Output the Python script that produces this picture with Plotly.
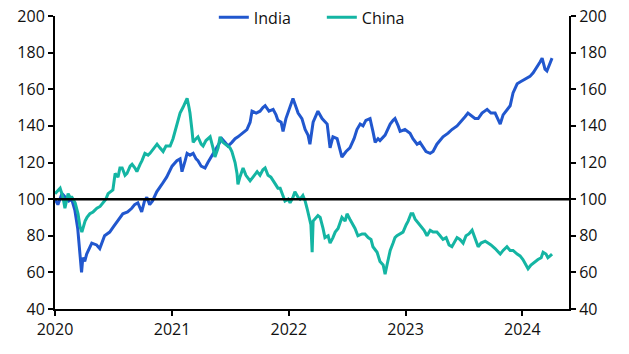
import plotly.graph_objects as go

india_dates = ["2020-01-01","2020-01-10","2020-01-23","2020-02-01","2020-02-13","2020-02-22","2020-03-03","2020-03-12","2020-03-18","2020-03-24","2020-03-28","2020-04-03","2020-04-09","2020-04-18","2020-04-25","2020-05-10","2020-05-20","2020-06-04","2020-06-20","2020-07-02","2020-07-15","2020-07-31","2020-08-15","2020-08-28","2020-09-06","2020-09-16","2020-09-28","2020-10-07","2020-10-14","2020-10-23","2020-11-01","2020-11-14","2020-11-30","2020-12-15","2021-01-01","2021-01-16","2021-01-26","2021-02-01","2021-02-11","2021-02-17","2021-02-26","2021-03-08","2021-03-17","2021-03-23","2021-04-02","2021-04-14","2021-04-23","2021-05-06","2021-05-18","2021-05-28","2021-06-06","2021-06-16","2021-06-25","2021-07-07","2021-07-17","2021-07-26","2021-08-08","2021-08-23","2021-09-02","2021-09-08","2021-09-21","2021-10-03","2021-10-12","2021-10-19","2021-10-31","2021-11-13","2021-11-22","2021-11-28","2021-12-08","2021-12-14","2021-12-23","2022-01-05","2022-01-14","2022-01-24","2022-01-30","2022-02-11","2022-02-21","2022-03-02","2022-03-08","2022-03-18","2022-03-27","2022-04-02","2022-04-15","2022-05-01","2022-05-10","2022-05-19","2022-06-01","2022-06-10","2022-06-16","2022-06-29","2022-07-11","2022-07-24","2022-08-02","2022-08-12","2022-08-21","2022-08-30","2022-09-12","2022-09-21","2022-09-28","2022-10-07","2022-10-13","2022-10-29","2022-11-14","2022-11-23","2022-11-29","2022-12-09","2022-12-15","2022-12-30","2023-01-15","2023-01-24","2023-02-06","2023-02-15","2023-02-25","2023-03-06","2023-03-19","2023-03-28","2023-04-09","2023-04-28","2023-05-14","2023-05-26","2023-06-11","2023-06-27","2023-07-06","2023-07-15","2023-07-28","2023-08-06","2023-08-16","2023-08-28","2023-09-13","2023-09-25","2023-10-08","2023-10-17","2023-10-24","2023-11-02","2023-11-14","2023-11-24","2023-12-03","2023-12-16","2023-12-25","2024-01-03","2024-01-16","2024-01-25","2024-02-04","2024-02-16","2024-02-26","2024-03-03","2024-03-12","2024-03-18","2024-03-28","2024-04-03"]
india_values = [100,97,103,101,99,100,94,84,72,60,68,66,70,73,76,75,73,80,82,85,88,92,93,95,97,98,93,99,101,97,99,104,108,112,118,121,122,115,121,125,124,125,122,121,118,117,120,124,127,130,133,131,129,131,133,134,136,138,142,148,147,148,150,151,148,149,146,143,142,137,144,150,155,150,147,144,138,135,130,142,146,148,144,141,128,134,133,127,123,126,128,133,138,141,140,143,144,137,131,133,132,135,141,143,144,140,137,138,136,133,130,131,128,126,125,126,130,134,136,138,140,143,145,147,145,144,144,147,149,147,147,143,141,146,149,151,158,163,164,165,166,167,169,172,175,177,171,170,174,177]

china_dates = ["2020-01-01","2020-01-07","2020-01-17","2020-01-26","2020-02-01","2020-02-11","2020-02-17","2020-02-23","2020-03-04","2020-03-13","2020-03-19","2020-03-25","2020-04-04","2020-04-10","2020-04-19","2020-04-29","2020-05-11","2020-05-21","2020-05-30","2020-06-08","2020-06-15","2020-06-24","2020-06-30","2020-07-07","2020-07-16","2020-07-22","2020-07-29","2020-08-07","2020-08-13","2020-08-23","2020-08-29","2020-09-07","2020-09-13","2020-09-23","2020-09-29","2020-10-08","2020-10-18","2020-10-24","2020-11-02","2020-11-15","2020-11-24","2020-12-04","2020-12-13","2020-12-26","2021-01-04","2021-01-10","2021-01-20","2021-01-26","2021-02-04","2021-02-11","2021-02-17","2021-02-23","2021-02-26","2021-03-04","2021-03-08","2021-03-17","2021-03-23","2021-04-02","2021-04-08","2021-04-17","2021-04-30","2021-05-09","2021-05-15","2021-05-25","2021-05-31","2021-06-09","2021-06-22","2021-07-01","2021-07-07","2021-07-17","2021-07-23","2021-07-26","2021-08-01","2021-08-11","2021-08-20","2021-09-02","2021-09-11","2021-09-24","2021-10-03","2021-10-12","2021-10-19","2021-10-28","2021-11-06","2021-11-13","2021-11-22","2021-11-28","2021-12-05","2021-12-14","2021-12-20","2021-12-30","2022-01-05","2022-01-14","2022-01-20","2022-01-30","2022-02-05","2022-02-14","2022-02-21","2022-02-27","2022-03-08","2022-03-11","2022-03-15","2022-03-18","2022-04-02","2022-04-09","2022-04-18","2022-04-24","2022-05-04","2022-05-10","2022-05-19","2022-05-26","2022-06-04","2022-06-16","2022-06-26","2022-07-02","2022-07-11","2022-07-18","2022-07-27","2022-08-05","2022-08-18","2022-08-27","2022-09-06","2022-09-15","2022-09-21","2022-10-04","2022-10-13","2022-10-23","2022-10-29","2022-11-04","2022-11-14","2022-11-23","2022-11-29","2022-12-05","2022-12-15","2022-12-24","2023-01-03","2023-01-09","2023-01-18","2023-01-24","2023-01-31","2023-02-09","2023-02-18","2023-02-28","2023-03-09","2023-03-19","2023-03-28","2023-04-09","2023-04-19","2023-04-28","2023-05-08","2023-05-17","2023-05-26","2023-06-05","2023-06-11","2023-06-20","2023-06-30","2023-07-09","2023-07-18","2023-07-28","2023-08-06","2023-08-16","2023-08-25","2023-09-07","2023-09-16","2023-09-25","2023-10-08","2023-10-17","2023-10-24","2023-11-02","2023-11-14","2023-11-24","2023-12-03","2023-12-16","2023-12-25","2024-01-03","2024-01-10","2024-01-19","2024-01-28","2024-02-10","2024-02-19","2024-02-29","2024-03-06","2024-03-15","2024-03-21","2024-03-28","2024-04-03"]
china_values = [103,104,106,101,95,103,101,101,98,92,85,82,88,90,92,93,95,96,98,100,103,104,105,114,112,117,117,113,114,118,119,117,115,119,121,125,124,125,127,130,128,126,129,129,133,137,143,147,150,153,155,150,147,138,131,133,134,130,129,132,134,128,123,128,134,131,129,128,126,120,114,108,112,117,113,110,112,115,113,116,117,113,112,110,108,106,106,101,99,100,98,101,104,101,100,102,99,95,87,86,71,88,91,90,84,79,80,76,79,82,84,90,88,92,89,87,84,80,81,81,79,78,74,71,66,64,59,64,72,76,79,80,81,82,86,88,92,92,89,87,85,83,80,83,82,82,80,78,79,75,74,77,79,78,76,80,81,83,79,74,76,77,76,75,73,71,70,72,74,72,72,70,69,67,65,62,64,66,67,68,71,70,68,69,70]

series_names = ["India", "China"]
series_colors = ["#2157CE", "#14B5A3"]
x_tick_vals = ["2020-01-01", "2021-01-01", "2022-01-01", "2023-01-01", "2024-01-01"]
x_tick_text = ["2020", "2021", "2022", "2023", "2024"]
y_ticks = [40, 60, 80, 100, 120, 140, 160, 180, 200]
x_range = ["2020-01-01", "2024-05-26"]
y_range = [40, 200]
base_level = 100

font_family = "Open Sans, sans-serif"
fig = go.Figure()
fig.add_trace(go.Scatter(x=india_dates, y=india_values, name=series_names[0], mode="lines",
                         line=dict(color=series_colors[0], width=3)))
fig.add_trace(go.Scatter(x=china_dates, y=china_values, name=series_names[1], mode="lines",
                         line=dict(color=series_colors[1], width=3)))
# invisible trace to activate the right-hand axis
fig.add_trace(go.Scatter(x=india_dates, y=india_values, yaxis="y2", mode="lines",
                         line=dict(width=0), opacity=0, showlegend=False, hoverinfo="skip"))

fig.add_shape(type="line", xref="paper", x0=0, x1=1, yref="y", y0=base_level, y1=base_level,
              line=dict(color="black", width=2.5), layer="above")

axis_common = dict(showgrid=False, zeroline=False, showline=True, linecolor="black", linewidth=2,
                   ticks="outside", ticklen=5, tickwidth=2, tickcolor="black",
                   tickfont=dict(family=font_family, size=16, color="#111"))

fig.update_layout(
    width=629, height=354,
    margin=dict(l=55, r=60, t=16, b=45, autoexpand=False),
    paper_bgcolor="white", plot_bgcolor="white",
    font=dict(family=font_family, size=16, color="#111"),
    showlegend=True,
    legend=dict(orientation="h", x=0.309, xanchor="left", y=0.995, yanchor="middle",
                bgcolor="rgba(0,0,0,0)", font=dict(family=font_family, size=16, color="#111"),
                entrywidth=63, entrywidthmode="pixels", tracegroupgap=0),
    xaxis=dict(type="date", range=x_range, tickvals=x_tick_vals, ticktext=x_tick_text, **axis_common),
    yaxis=dict(range=y_range, tickvals=y_ticks, side="left", **axis_common),
    yaxis2=dict(range=y_range, tickvals=y_ticks, side="right", overlaying="y", **axis_common),
)

fig.write_html("out.html")
